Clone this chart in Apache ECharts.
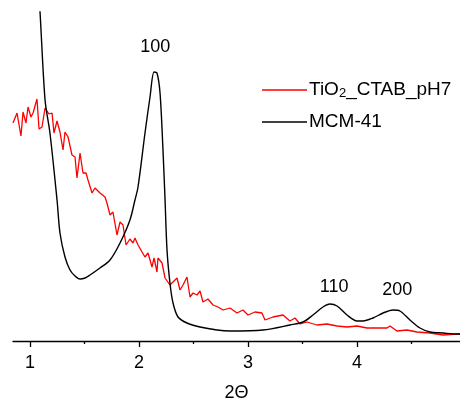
<!DOCTYPE html>
<html>
<head>
<meta charset="utf-8">
<script src="https://cdn.jsdelivr.net/npm/echarts@6/dist/echarts.min.js"></script>
<style>
  html, body { margin: 0; padding: 0; background: #fff; }
  #chart { width: 460px; height: 401px; }
</style>
</head>
<body>
<div id="chart"></div>
<script>
// 2Θ 坐标与强度（任意单位）
const mcmX = [1.05, 1.092, 1.138, 1.183, 1.248, 1.275, 1.321, 1.367, 1.413, 1.459, 1.505, 1.55, 1.642, 1.734, 1.826, 1.917, 1.963, 1.991, 2.055, 2.101, 2.138, 2.165, 2.193, 2.22, 2.239, 2.257, 2.284, 2.312, 2.358, 2.44, 2.56, 2.716, 2.835, 3.138, 3.385, 3.505, 3.596, 3.688, 3.752, 3.817, 3.908, 4.0, 4.055, 4.147, 4.239, 4.33, 4.394, 4.486, 4.578, 4.67, 4.789, 4.917, 4.945];
const mcmY = [400, 329, 241, 208, 141, 108, 84, 71, 65, 62, 63, 66, 73, 81, 98, 121, 141, 154, 208, 244, 269, 268, 248, 191, 141, 91, 58, 38, 24, 18, 14, 11, 10, 11, 16, 19, 26, 34, 37, 35, 26, 20, 20, 23, 28, 31, 30, 21, 13, 9, 8, 7, 7];

const tioX = [0.844, 0.881, 0.917, 0.936, 0.963, 0.982, 1.009, 1.028, 1.064, 1.083, 1.11, 1.138, 1.174, 1.202, 1.22, 1.248, 1.275, 1.303, 1.321, 1.349, 1.385, 1.413, 1.431, 1.459, 1.486, 1.514, 1.532, 1.569, 1.596, 1.642, 1.688, 1.706, 1.734, 1.761, 1.798, 1.826, 1.853, 1.881, 1.917, 1.945, 1.963, 1.991, 2.028, 2.055, 2.083, 2.119, 2.138, 2.165, 2.174, 2.211, 2.239, 2.284, 2.312, 2.349, 2.376, 2.404, 2.44, 2.468, 2.495, 2.532, 2.56, 2.587, 2.633, 2.679, 2.725, 2.771, 2.835, 2.899, 2.954, 3.0, 3.064, 3.128, 3.156, 3.229, 3.321, 3.385, 3.431, 3.477, 3.541, 3.633, 3.725, 3.817, 3.908, 4.0, 4.092, 4.183, 4.275, 4.303, 4.367, 4.459, 4.55, 4.67, 4.789, 4.917, 4.945];
const tioY = [218, 228, 205, 229, 218, 234, 224, 228, 242, 212, 214, 233, 227, 228, 208, 220, 209, 191, 209, 204, 186, 184, 163, 188, 168, 168, 161, 148, 153, 148, 144, 138, 126, 129, 106, 119, 116, 96, 102, 98, 103, 96, 89, 84, 88, 74, 83, 69, 83, 78, 63, 56, 59, 63, 51, 56, 64, 44, 48, 46, 50, 39, 42, 36, 34, 31, 33, 28, 31, 26, 29, 28, 21, 24, 26, 20, 23, 17, 19, 16, 17, 15, 14, 15, 13, 13, 13, 15, 10, 11, 9, 8, 6, 7, 7];

// 峰标注
const peakNames = ['100', '110', '200'];
const peakX = [2.15, 3.79, 4.37];
const peakY = [294, 54, 51];

const majorTicks = [1, 2, 3, 4];
const minorTicks = [1.5, 2.5, 3.5, 4.5];

const font = 'Liberation Sans, Arial, sans-serif';
const chart = echarts.init(document.getElementById('chart'));

const zip = (xs, ys) => xs.map((x, i) => [x, ys[i]]);

chart.setOption({
    animation: false,
    grid: { left: 13, right: 0, top: 12, bottom: 60, outerBoundsMode: 'none', containLabel: false },
    legend: {
        orient: 'vertical',
        left: 257,
        top: 74,
        itemWidth: 45,
        itemHeight: 1.5,
        itemGap: 12,
        icon: 'rect',
        data: ['TiO2_CTAB_pH7', 'MCM-41'],
        formatter: name => name === 'TiO2_CTAB_pH7' ? 'TiO{sub|2}_CTAB_pH7' : name,
        textStyle: {
            fontFamily: font,
            fontSize: 19,
            color: '#000',
            lineHeight: 20,
            padding: [0, 0, 0, -3],
            rich: {
                sub: { fontFamily: font, fontSize: 13, verticalAlign: 'bottom', padding: [8, 0, 0, 0], lineHeight: 20 }
            }
        }
    },
    xAxis: [
        {
            type: 'value',
            min: 0.844,
            max: 4.945,
            name: '2Θ',
            nameLocation: 'middle',
            nameGap: 43,
            nameTextStyle: { fontFamily: font, fontSize: 18, color: '#000' },
            axisLine: { lineStyle: { color: '#000', width: 1.3 } },
            axisTick: { show: true, length: 6, customValues: majorTicks, lineStyle: { color: '#000', width: 1.3 } },
            axisLabel: { customValues: majorTicks, margin: 13, fontFamily: font, fontSize: 18, color: '#000' },
            splitLine: { show: false }
        },
        {
            type: 'value',
            position: 'bottom',
            min: 0.844,
            max: 4.945,
            axisLine: { show: false },
            axisTick: { show: true, length: 3, customValues: minorTicks, lineStyle: { color: '#000', width: 1.3 } },
            axisLabel: { show: false },
            splitLine: { show: false }
        }
    ],
    yAxis: { type: 'value', min: 0, max: 329, show: false },
    series: [
        {
            name: 'TiO2_CTAB_pH7',
            type: 'line',
            data: zip(tioX, tioY),
            showSymbol: false,
            color: '#ff0000',
            lineStyle: { width: 1.3, color: '#ff0000' }
        },
        {
            name: 'MCM-41',
            type: 'line',
            data: zip(mcmX, mcmY),
            smooth: 0.3,
            showSymbol: false,
            color: '#000',
            lineStyle: { width: 1.4, color: '#000' },
            markPoint: {
                symbol: 'circle',
                symbolSize: 0,
                label: { show: true, position: 'inside', fontFamily: font, fontSize: 18, color: '#000', formatter: p => p.name },
                data: peakNames.map((n, i) => ({ name: n, coord: [peakX[i], peakY[i]] }))
            }
        }
    ]
});
</script>
</body>
</html>
